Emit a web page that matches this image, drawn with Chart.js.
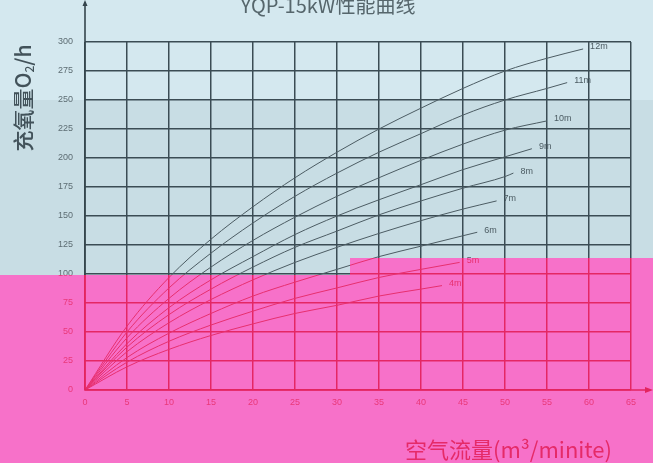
<!DOCTYPE html>
<html>
<head>
<meta charset="utf-8">
<script src="https://cdn.jsdelivr.net/npm/chart.js@4.4.1/dist/chart.umd.min.js"></script>
<style>
  html, body { margin: 0; padding: 0; background: #c8dde4; }
  canvas { display: block; }
</style>
</head>
<body>
<canvas id="perfchart" width="653" height="463"></canvas>
<script>
// head (m) of each curve, top to bottom
var heads = ['12m', '11m', '10m', '9m', '8m', '7m', '6m', '5m', '4m'];

// air flow (m3/min) and oxygen (O2/h)
var flow12 = [0, 5, 10, 15, 20, 25, 30, 35, 40, 45, 50, 55, 59.3];
var oxy12  = [0, 55, 97, 130, 158, 183, 205, 225, 243, 260, 275, 286, 294];
var flow11 = [0, 5, 10, 15, 20, 25, 30, 35, 40, 45, 50, 55, 57.4];
var oxy11  = [0, 50, 88, 118, 144, 167, 187, 205, 221, 237, 250, 260, 265];
var flow10 = [0, 5, 10, 15, 20, 25, 30, 35, 40, 45, 50, 55];
var oxy10  = [0, 45, 79, 106, 129, 149, 167, 183, 198, 212, 224, 232];
var flow9  = [0, 5, 10, 15, 20, 25, 30, 35, 40, 45, 50, 53.2];
var oxy9   = [0, 40, 71, 95, 115, 134, 150, 164, 177, 190, 201, 208];
var flow8  = [0, 5, 10, 15, 20, 25, 30, 35, 40, 45, 50, 51];
var oxy8   = [0, 37, 65, 87, 106, 123, 137, 151, 163, 174, 184, 187];
var flow7  = [0, 5, 10, 15, 20, 25, 30, 35, 40, 45, 49];
var oxy7   = [0, 33, 58, 78, 95, 110, 123, 135, 146, 156, 163];
var flow6  = [0, 5, 10, 15, 20, 25, 30, 35, 40, 45, 46.7];
var oxy6   = [0, 28, 49, 66, 81, 93, 104, 115, 124, 133, 136];
var flow5  = [0, 5, 10, 15, 20, 25, 30, 35, 40, 44.6];
var oxy5   = [0, 24, 42, 56, 68, 79, 88, 97, 104, 110];
var flow4  = [0, 5, 10, 15, 20, 25, 30, 35, 40, 42.5];
var oxy4   = [0, 20, 35, 47, 57, 66, 73, 81, 87, 90];

var flows = [flow12, flow11, flow10, flow9, flow8, flow7, flow6, flow5, flow4];
var oxys  = [oxy12, oxy11, oxy10, oxy9, oxy8, oxy7, oxy6, oxy5, oxy4];

var datasets = heads.map(function (name, i) {
    return {
        label: name,
        data: flows[i].map(function (x, j) { return { x: x, y: oxys[i][j] }; }),
        borderColor: '#4c5c63',
        borderWidth: 1,
        pointRadius: 0,
        fill: false,
        cubicInterpolationMode: 'monotone'
    };
});

var paperPlugin = {
    id: 'paper',
    beforeDraw: function (chart) {
        var ctx = chart.ctx;
        ctx.save();
        ctx.fillStyle = '#d4e8ef';
        ctx.fillRect(0, 0, chart.width, 100);
        ctx.fillStyle = '#c8dde4';
        ctx.fillRect(0, 100, chart.width, chart.height - 100);
        ctx.restore();
    },
    afterDraw: function (chart) {
        var ctx = chart.ctx;
        var xs = chart.scales.x, ys = chart.scales.y;
        var x0 = xs.getPixelForValue(0), y0 = ys.getPixelForValue(0);
        ctx.save();

        // axes with arrows
        ctx.strokeStyle = '#35454d';
        ctx.fillStyle = '#35454d';
        ctx.lineWidth = 1.6;
        ctx.beginPath();
        ctx.moveTo(x0, 2);
        ctx.lineTo(x0, y0);
        ctx.lineTo(chart.width - 4, y0);
        ctx.stroke();
        ctx.beginPath();
        ctx.moveTo(chart.width, y0);
        ctx.lineTo(chart.width - 8, y0 - 3);
        ctx.lineTo(chart.width - 8, y0 + 3);
        ctx.closePath();
        ctx.fill();
        ctx.beginPath();
        ctx.moveTo(x0, 0);
        ctx.lineTo(x0 - 2.5, 6);
        ctx.lineTo(x0 + 2.5, 6);
        ctx.closePath();
        ctx.fill();

        // curve names at line ends
        ctx.font = '9px "Liberation Sans"';
        ctx.fillStyle = '#4c5c63';
        ctx.textBaseline = 'middle';
        ctx.textAlign = 'left';
        chart.data.datasets.forEach(function (ds, i) {
            var pts = chart.getDatasetMeta(i).data;
            var last = pts[pts.length - 1];
            ctx.fillText(ds.label, last.x + 7, last.y - 2);
        });

        // titles
        ctx.fillStyle = '#56666c';
        ctx.textAlign = 'center';
        ctx.textBaseline = 'alphabetic';
        ctx.font = '20px "Noto Sans CJK SC"';
        ctx.fillText('YQP-15kW性能曲线', 328, 13);

        ctx.save();
        ctx.translate(31, 98);
        ctx.rotate(-Math.PI / 2);
        ctx.fillStyle = '#42525a';
        ctx.font = '500 21px "Noto Sans CJK SC"';
        ctx.textAlign = 'left';
        var t1 = '充氧量O';
        var w1 = ctx.measureText(t1).width;
        ctx.font = '500 12px "Noto Sans CJK SC"';
        var w2 = ctx.measureText('2').width;
        ctx.font = '500 21px "Noto Sans CJK SC"';
        var w3 = ctx.measureText('/h').width;
        var sx = -(w1 + w2 + w3) / 2;
        ctx.fillText(t1, sx, 0);
        ctx.font = '500 12px "Noto Sans CJK SC"';
        ctx.fillText('2', sx + w1, 3);
        ctx.font = '500 21px "Noto Sans CJK SC"';
        ctx.fillText('/h', sx + w1 + w2, 0);
        ctx.restore();

        ctx.fillStyle = '#42525a';
        ctx.textAlign = 'left';
        ctx.font = '22px "Noto Sans CJK SC"';
        ctx.fillText('空气流量(m³/minite)', 405, 458);

        // pink cast over the lower part of the photo
        var tint = function (op, colour) {
            ctx.globalCompositeOperation = op;
            ctx.fillStyle = colour;
            ctx.fillRect(0, 275, chart.width, chart.height - 275);
            ctx.fillRect(350, 258, chart.width - 350, 17);
        };
        tint('multiply', 'rgb(255,130,214)');
        tint('screen', 'rgb(220,0,40)');
        ctx.restore();
    }
};

var ctx = document.getElementById('perfchart').getContext('2d');
var perfChart = new Chart(ctx, {
    type: 'line',
    data: { datasets: datasets },
    plugins: [paperPlugin],
    options: {
        responsive: false,
        animation: false,
        devicePixelRatio: 1,
        layout: { padding: { left: 0, right: 22, top: 42, bottom: 0 } },
        plugins: { legend: { display: false }, tooltip: { enabled: false } },
        scales: {
            x: {
                type: 'linear',
                min: 0,
                max: 65,
                afterFit: function (scale) { scale.height = 73; },
                ticks: {
                    stepSize: 5,
                    padding: 7,
                    maxRotation: 0,
                    color: '#5d6d73',
                    font: { family: 'Liberation Sans', size: 9 }
                },
                grid: { color: '#3b4c54', lineWidth: 1.5, drawTicks: false },
                border: { display: false }
            },
            y: {
                min: 0,
                max: 300,
                afterFit: function (scale) { scale.width = 85; },
                ticks: {
                    stepSize: 25,
                    padding: 12,
                    color: '#5d6d73',
                    font: { family: 'Liberation Sans', size: 9 }
                },
                grid: { color: '#3b4c54', lineWidth: 1.5, drawTicks: false },
                border: { display: false }
            }
        }
    }
});
</script>
</body>
</html>
